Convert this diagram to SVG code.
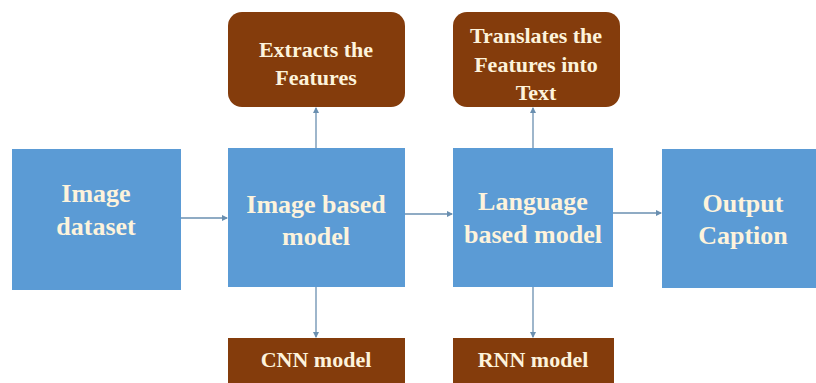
<svg xmlns="http://www.w3.org/2000/svg" width="816" height="383" viewBox="0 0 816 383">
<style>
.blue{fill:#5b9bd5}
.brown{fill:#843c0c}
.c{stroke:#6a8fb0;stroke-width:1.3;fill:none}
</style>
<defs>
<marker id="ah" viewBox="0 0 6 6" refX="5" refY="3" markerWidth="5" markerHeight="5" orient="auto">
<path d="M0,0 L6,3 L0,6 z" fill="#6a8fb0"/>
</marker>
</defs>
<rect width="816" height="383" fill="#ffffff"/>
<g id="connectors" marker-end="url(#ah)">
<line class="c" x1="181" y1="218" x2="227" y2="218"/>
<line class="c" x1="405" y1="214" x2="452" y2="214"/>
<line class="c" x1="613" y1="213" x2="661" y2="213"/>
<line class="c" x1="316" y1="148" x2="316" y2="108"/>
<line class="c" x1="316" y1="287" x2="316" y2="337"/>
<line class="c" x1="533" y1="148" x2="533" y2="108"/>
<line class="c" x1="533" y1="287" x2="533" y2="337"/>
</g>
<g id="image-dataset" font-family="Liberation Serif, serif" font-weight="bold" font-size="26" fill="#fdf3dc" text-anchor="middle">
<rect class="blue" x="12" y="149" width="169" height="141"/>
<text x="96" y="202">Image</text>
<text x="96" y="235">dataset</text>
</g>
<g id="image-based-model" font-family="Liberation Serif, serif" font-weight="bold" font-size="26" fill="#fdf3dc" text-anchor="middle">
<rect class="blue" x="228" y="148" width="177" height="139"/>
<text x="316" y="213">Image based</text>
<text x="316" y="245">model</text>
</g>
<g id="extracts" font-family="Liberation Serif, serif" font-weight="bold" font-size="22" fill="#fdf3dc" text-anchor="middle">
<rect class="brown" x="228" y="12" width="177" height="95" rx="14"/>
<text x="316" y="57">Extracts the</text>
<text x="316" y="85">Features</text>
</g>
<g id="cnn" font-family="Liberation Serif, serif" font-weight="bold" font-size="22" fill="#fdf3dc" text-anchor="middle">
<rect class="brown" x="228" y="338" width="177" height="50"/>
<text x="316" y="367">CNN model</text>
</g>
<g id="language-based-model" font-family="Liberation Serif, serif" font-weight="bold" font-size="26" fill="#fdf3dc" text-anchor="middle">
<rect class="blue" x="453" y="148" width="160" height="139"/>
<text x="533" y="210">Language</text>
<text x="533" y="243">based model</text>
</g>
<g id="translates" font-family="Liberation Serif, serif" font-weight="bold" font-size="22" fill="#fdf3dc" text-anchor="middle">
<rect class="brown" x="453" y="12" width="167" height="95" rx="14"/>
<text x="536" y="43">Translates the</text>
<text x="536" y="72">Features into</text>
<text x="536" y="100">Text</text>
</g>
<g id="rnn" font-family="Liberation Serif, serif" font-weight="bold" font-size="22" fill="#fdf3dc" text-anchor="middle">
<rect class="brown" x="453" y="338" width="161" height="50"/>
<text x="533" y="367">RNN model</text>
</g>
<g id="output-caption" font-family="Liberation Serif, serif" font-weight="bold" font-size="26" fill="#fdf3dc" text-anchor="middle">
<rect class="blue" x="662" y="149" width="160" height="139"/>
<text x="743" y="212">Output</text>
<text x="743" y="244">Caption</text>
</g>
</svg>
